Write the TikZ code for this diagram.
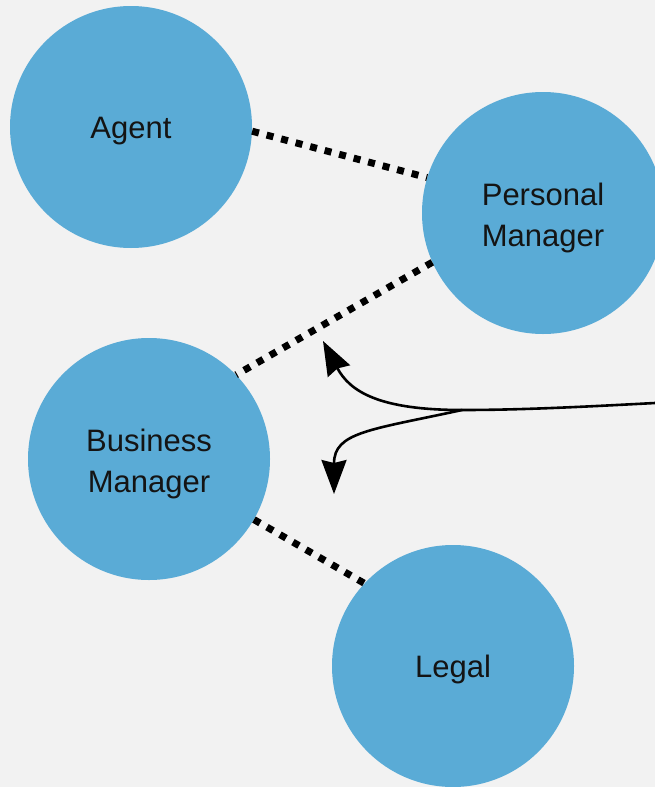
\documentclass[tikz,border=0pt]{standalone}
\usepackage{fontspec}
\setmainfont{Liberation Sans}
\usepackage{tikz}
\usetikzlibrary{arrows.meta,positioning,calc}
\definecolor{bluei}{RGB}{90,171,214}
\definecolor{greyi}{RGB}{242,242,242}
\definecolor{texti}{RGB}{20,20,20}
\tikzset{ 
          role/.style={
            circle,fill=bluei,minimum size=242pt,inner sep=0pt,
            align=center,text=texti,text height=30pt,
            font=\fontsize{31}{41}\selectfont
          },
          tworole/.style={role,text height=73pt},
          link/.style={line width=7pt,dash pattern=on 7pt off 8pt},
          flow/.style={line width=2.6pt,-{Stealth[length=34pt,width=25pt,inset=3pt]}}
        }

\begin{document}
\begin{tikzpicture}[x=1pt,y=-1pt]
            \fill[greyi] (0,0) rectangle (655,787);
            \useasboundingbox (0,0) rectangle (655,787);

            \node[role] (agent) at (131,127) {Agent};
            \node[tworole] (pm) at (543,213) {Personal\\Manager};
            \node[tworole] (bm) at (149,459) {Business\\Manager};
            \node[role] (legal) at (453,666) {Legal};

            \draw[link] (agent.-2) -- (pm.163);
            \draw[link] (pm.204) -- (bm.44);
            \draw[link] (bm.330) -- (legal.137);

            % incoming arrow, split in two
            \coordinate (in) at (655,403);
            \coordinate (split) at (462,410);
            \coordinate (up) at (323,341);
            \coordinate (down) at (334,494);
            \draw[line width=2.6pt] (in) .. controls (580,407) and (520,410) .. (split);
            \draw[flow] (split) .. controls (380,410) and (350,392) .. (up);
            \draw[flow] (split) .. controls (370,430) and (334,432) .. (down);
\end{tikzpicture}
\end{document}
